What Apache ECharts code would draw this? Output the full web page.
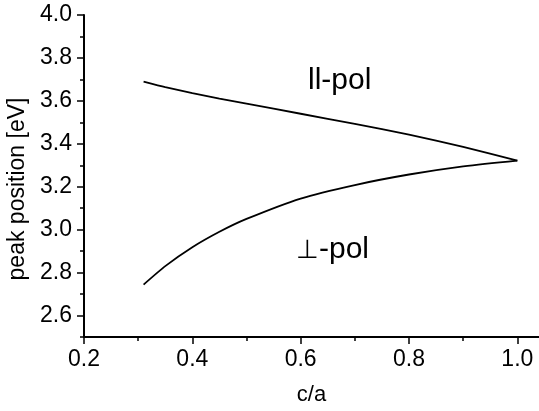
<!DOCTYPE html>
<html>
<head>
<meta charset="utf-8">
<script src="https://cdn.jsdelivr.net/npm/echarts@6/dist/echarts.min.js"></script>
<style>
  html, body { margin: 0; padding: 0; background: #fff; }
  #main { width: 539px; height: 411px; }
</style>
</head>
<body>
<div id="main"></div>
<script>
// c/a ratio and peak positions
var ratio = [0.31, 0.35, 0.4, 0.45, 0.5, 0.6, 0.7, 0.8, 0.9, 1.0];
var parPol = [3.690, 3.664, 3.636, 3.610, 3.587, 3.540, 3.493, 3.443, 3.386, 3.322];
var perpPol = [2.744, 2.830, 2.918, 2.990, 3.050, 3.145, 3.208, 3.257, 3.295, 3.322];

var xTicks = [0.2, 0.4, 0.6, 0.8, 1.0];
var xMinor = [0.3, 0.5, 0.7, 0.9];
var yTicks = [2.6, 2.8, 3.0, 3.2, 3.4, 3.6, 3.8, 4.0];
var yMinor = [2.5, 2.7, 2.9, 3.1, 3.3, 3.5, 3.7, 3.9];

function pairs(xs, ys) {
    return xs.map(function (x, i) { return [x, ys[i]]; });
}

var fontFam = '"Liberation Sans", Arial, Helvetica, sans-serif';
var lineBlack = { color: '#000', width: 1.8 };

var dom = document.getElementById('main');
var myChart = echarts.init(dom, null, { renderer: 'canvas' });

var option = {
    backgroundColor: '#fff',
    animation: false,
    grid: {
        left: 84,
        right: 0,
        top: 15,
        bottom: 74,
        containLabel: false,
        outerBoundsMode: 'none'
    },
    xAxis: [{
        type: 'value',
        min: 0.2,
        max: 1.04,
        position: 'bottom',
        name: 'c/a',
        nameLocation: 'middle',
        nameGap: 47,
        nameTextStyle: { color: '#000', fontSize: 22, fontFamily: fontFam },
        axisLine: { lineStyle: { color: '#000', width: 2 } },
        axisTick: { customValues: xTicks, length: 7, lineStyle: { color: '#000', width: 1.5 } },
        axisLabel: {
            customValues: xTicks,
            margin: 11,
            color: '#000',
            fontSize: 23,
            fontFamily: fontFam,
            formatter: function (v) { return v.toFixed(1); }
        },
        splitLine: { show: false }
    }, {
        // minor ticks only
        type: 'value',
        min: 0.2,
        max: 1.04,
        position: 'bottom',
        axisLine: { show: false },
        axisTick: { customValues: xMinor, length: 4, lineStyle: { color: '#000', width: 1.5 } },
        axisLabel: { show: false },
        splitLine: { show: false }
    }],
    yAxis: [{
        type: 'value',
        min: 2.5,
        max: 4.0,
        position: 'left',
        name: 'peak position [eV]',
        nameLocation: 'middle',
        nameGap: 48,
        nameTextStyle: {
            color: '#000',
            fontSize: 23,
            fontFamily: fontFam,
            padding: [0, 26, 0, 0]
        },
        axisLine: { lineStyle: { color: '#000', width: 2 } },
        axisTick: { customValues: yTicks, length: 7, lineStyle: { color: '#000', width: 1.5 } },
        axisLabel: {
            customValues: yTicks,
            margin: 12,
            color: '#000',
            fontSize: 23,
            fontFamily: fontFam,
            formatter: function (v) { return v.toFixed(1); }
        },
        splitLine: { show: false }
    }, {
        type: 'value',
        min: 2.5,
        max: 4.0,
        position: 'left',
        axisLine: { show: false },
        axisTick: { customValues: yMinor, length: 4, lineStyle: { color: '#000', width: 1.5 } },
        axisLabel: { show: false },
        splitLine: { show: false }
    }],
    series: [{
        name: 'par',
        type: 'line',
        data: pairs(ratio, parPol),
        smooth: 0.2,
        showSymbol: false,
        lineStyle: lineBlack
    }, {
        name: 'perp',
        type: 'line',
        data: pairs(ratio, perpPol),
        smooth: 0.2,
        showSymbol: false,
        lineStyle: lineBlack
    }],
    graphic: [{
        type: 'text',
        left: 308,
        top: 66,
        style: { text: 'll-pol', fill: '#000', font: '30px ' + fontFam }
    }, {
        type: 'text',
        left: 296,
        top: 235,
        style: {
            text: '{s|\u22a5}-pol',
            fill: '#000',
            font: '30px ' + fontFam,
            rich: {
                s: { fontSize: 26, fontFamily: fontFam, fill: '#000', padding: [2, 0, 0, 0] }
            }
        }
    }]
};

myChart.setOption(option);
</script>
</body>
</html>
